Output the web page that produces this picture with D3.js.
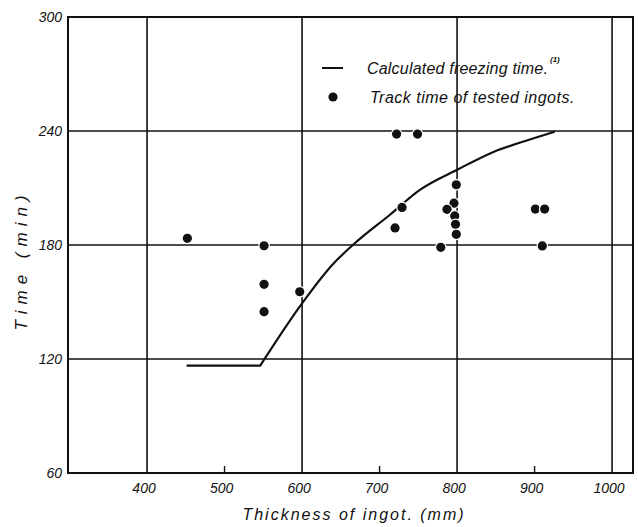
<!DOCTYPE html>
<html lang="en">
<head>
<meta charset="UTF-8">
<title>Freezing time vs ingot thickness</title>
<script src="https://d3js.org/d3.v7.min.js"></script>
<style>
  body { margin: 0; background: #fff; }
  text { font-family: "Liberation Sans", "DejaVu Sans", sans-serif; font-style: italic; fill: #111; }
</style>
</head>
<body>
<svg id="chart" width="638" height="527"></svg>
<script>
// tick values
var xGrid = [400, 600, 800, 1000];
var xMinor = [500, 700, 900];
var xTicks = [400, 500, 600, 700, 800, 900, 1000];
var yTicks = [60, 120, 180, 240, 300];

// calculated freezing time curve (mm, min)
var curveMm  = [451, 546, 600, 640, 668, 713, 752, 802, 847, 890, 926];
var curveMin = [116.5, 116.5, 149.3, 170, 180.9, 195.8, 209, 220, 229, 235, 239.6];

// track time of tested ingots (mm, min)
var ingotMm  = [452, 551, 551, 551, 597, 722, 749, 729, 720, 779, 799, 796, 787, 797, 798, 799, 901, 913, 910];
var ingotMin = [183.5, 179.6, 159.3, 144.9, 155.4, 238.4, 238.4, 199.8, 189, 178.8, 211.7, 202, 198.8, 195.3, 190.9, 185.6, 198.9, 198.9, 179.5];

var svg = d3.select("#chart");
var plotL = 68, plotR = 633, plotT = 17, plotB = 473;

var x = d3.scaleLinear().domain([298, 1027]).range([plotL, plotR]);
var y = d3.scaleLinear().domain([60, 300]).range([plotB, plotT]);

// grid lines
svg.append("g").selectAll("line")
  .data(yTicks.filter(d => d > 60 && d < 300))
  .enter().append("line")
    .attr("x1", plotL).attr("x2", plotR)
    .attr("y1", d => y(d)).attr("y2", d => y(d))
    .attr("stroke", "#111").attr("stroke-width", 1.6);

svg.append("g").selectAll("line")
  .data(xGrid)
  .enter().append("line")
    .attr("x1", d => x(d)).attr("x2", d => x(d))
    .attr("y1", plotT).attr("y2", plotB)
    .attr("stroke", "#111").attr("stroke-width", 1.6);

// short ticks at 500, 700, 900
svg.append("g").selectAll("line")
  .data(xMinor)
  .enter().append("line")
    .attr("x1", d => x(d)).attr("x2", d => x(d))
    .attr("y1", plotB - 7).attr("y2", plotB)
    .attr("stroke", "#111").attr("stroke-width", 1.4);

// frame
svg.append("rect")
  .attr("x", plotL).attr("y", plotT)
  .attr("width", plotR - plotL).attr("height", plotB - plotT)
  .attr("fill", "none").attr("stroke", "#111").attr("stroke-width", 2);

// curve: flat part is straight, rising part smooth
var pts = curveMm.map((d, i) => [curveMm[i], curveMin[i]]);
var flatLine = d3.line().x(d => x(d[0])).y(d => y(d[1]));
var riseLine = d3.line().x(d => x(d[0])).y(d => y(d[1])).curve(d3.curveMonotoneX);

svg.append("path")
  .attr("d", flatLine(pts.slice(0, 2)) + riseLine(pts.slice(1)).replace(/^M[^C]*/, ""))
  .attr("fill", "none")
  .attr("stroke", "#111")
  .attr("stroke-width", 2.2)
  .attr("stroke-linejoin", "round");

// dots with white halo
svg.append("g").selectAll("circle")
  .data(ingotMm)
  .enter().append("circle")
    .attr("cx", (d, i) => x(ingotMm[i]))
    .attr("cy", (d, i) => y(ingotMin[i]))
    .attr("r", 4.6)
    .attr("fill", "#111")
    .attr("stroke", "#fff")
    .attr("stroke-width", 2.5)
    .attr("paint-order", "stroke");

// tick labels
svg.append("g").selectAll("text")
  .data(yTicks)
  .enter().append("text")
    .attr("x", 62)
    .attr("y", d => y(d) + 5)
    .attr("text-anchor", "end")
    .attr("font-size", 14)
    .text(d => d);

svg.append("g").selectAll("text")
  .data(xTicks)
  .enter().append("text")
    .attr("x", d => x(d) - 3)
    .attr("y", 493)
    .attr("text-anchor", "middle")
    .attr("font-size", 14)
    .text(d => d);

// axis titles
svg.append("text")
  .attr("x", 354).attr("y", 520)
  .attr("text-anchor", "middle")
  .attr("font-size", 16)
  .attr("letter-spacing", 2)
  .text("Thickness of ingot. (mm)");

svg.append("text")
  .attr("transform", "translate(27,260) rotate(-90)")
  .attr("text-anchor", "middle")
  .attr("font-size", 17)
  .attr("letter-spacing", 6)
  .text("Time (min)");

// legend
var lg = svg.append("g");
lg.append("line")
  .attr("x1", 322).attr("x2", 343)
  .attr("y1", 68).attr("y2", 68)
  .attr("stroke", "#111").attr("stroke-width", 2);
lg.append("text")
  .attr("x", 367).attr("y", 74)
  .attr("font-size", 16)
  .attr("letter-spacing", 0.2)
  .text("Calculated freezing time.");
lg.append("text")
  .attr("x", 550).attr("y", 62)
  .attr("font-size", 8)
  .attr("font-weight", "bold")
  .text("(1)");
lg.append("circle")
  .attr("cx", 333).attr("cy", 97).attr("r", 4.6)
  .attr("fill", "#111");
lg.append("text")
  .attr("x", 370).attr("y", 103)
  .attr("font-size", 16)
  .attr("letter-spacing", 0.5)
  .text("Track time of tested ingots.");
</script>
</body>
</html>
